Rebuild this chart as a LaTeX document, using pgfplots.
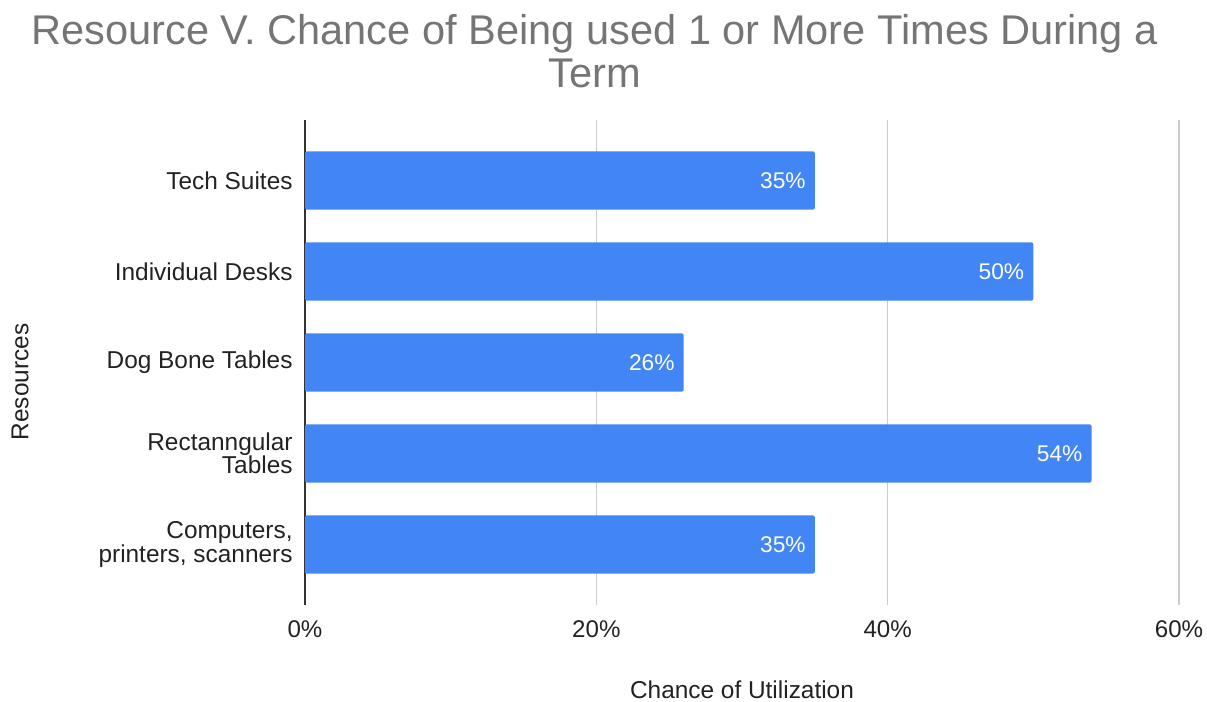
\documentclass[border=0pt]{standalone}
\usepackage{pgfplots}
\pgfplotsset{compat=1.18}
\usepackage{fontspec}
\setmainfont{Liberation Sans}

\definecolor{barblue}{HTML}{4285F4}
\definecolor{titlegrey}{HTML}{757575}
\definecolor{gridgrey}{HTML}{CCCCCC}
\definecolor{labeltext}{HTML}{222222}
\definecolor{axisline}{HTML}{333333}

\begin{document}
\begin{tikzpicture}[x=1bp,y=1bp]
\path[use as bounding box] (0,0) rectangle (1207,702);

% title, two centred lines
\node[text=titlegrey, font=\fontsize{41.7}{41}\selectfont, anchor=base, inner sep=0pt]
  at (594.5,657) {Resource V. Chance of Being used 1 or More Times During a};
\node[text=titlegrey, font=\fontsize{41.7}{41}\selectfont, anchor=base, inner sep=0pt]
  at (594.5,614) {Term};

% axis labels
\node[text=labeltext, font=\fontsize{24.5}{24}\selectfont, rotate=90, anchor=center, inner sep=0pt]
  at (20,320) {Resources};
\node[text=labeltext, font=\fontsize{24.5}{24}\selectfont, anchor=base, inner sep=0pt]
  at (742,3) {Chance of Utilization};

\begin{axis}[
  at={(305bp,97bp)}, anchor=south west,
  scale only axis, width=874bp, height=485bp,
  xbar, bar width=0.64,
  xmin=0, xmax=60, ymin=-0.665, ymax=4.665,
  xtick={0,20,40,60},
  xticklabel={\pgfmathprintnumber{\tick}\%},
  ytick={0,1,2,3,4},
  yticklabels={{Computers,\\printers, scanners},{Rectanngular\\Tables},{Dog Bone Tables},{Individual Desks},{Tech Suites}},
  yticklabel style={align=right, inner sep=0pt, xshift=-8bp, text=labeltext,
    font=\fontsize{24.5}{23.5}\selectfont},
  xticklabel style={inner sep=0pt, anchor=base, yshift=-33bp, text=labeltext,
    font=\fontsize{24.2}{24}\selectfont},
  /pgf/number format/assume math mode=true,
  axis line style={draw=none},
  major tick style={draw=none},
  xmajorgrids, grid style={gridgrey, line width=1.3bp},
  extra x ticks={0}, extra x tick labels={},
  extra x tick style={grid style={axisline, line width=1.6bp}},
  nodes near coords={\pgfmathprintnumber{\pgfplotspointmeta}\%},
  every node near coord/.append style={anchor=east, inner sep=0pt, xshift=-9bp,
    text=white, font=\fontsize{22.8}{24}\selectfont},
  clip=false,
]
\addplot[fill=barblue, draw=none, rounded corners=2bp] coordinates {
  (35,0) (54,1) (26,2) (50,3) (35,4)
};
\end{axis}
\end{tikzpicture}
\end{document}
